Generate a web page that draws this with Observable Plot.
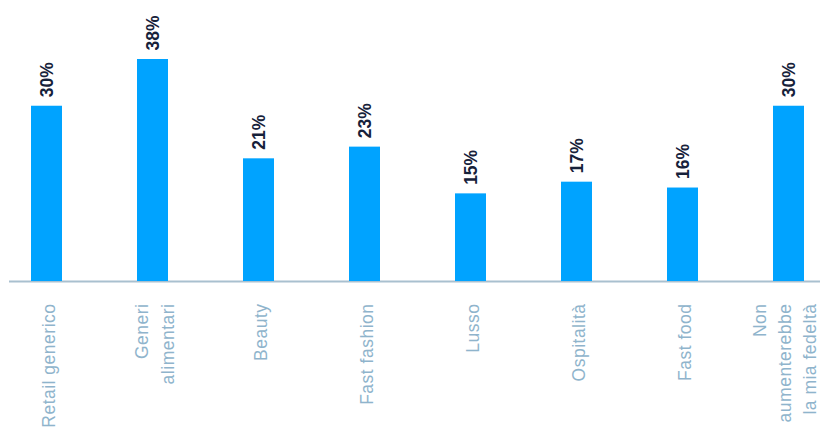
<!DOCTYPE html>
<html><head><meta charset="utf-8">
<script src="https://cdn.jsdelivr.net/npm/d3@7"></script>
<script src="https://cdn.jsdelivr.net/npm/@observablehq/plot@0.6"></script>
<style>body{margin:0;background:#fff;}</style>
</head><body><div id="chart"></div>
<script>
const categories = ["Retail generico", "Generi\nalimentari", "Beauty", "Fast fashion", "Lusso", "Ospitalità", "Fast food", "Non\naumenterebbe\nla mia fedeltà"];
const values = [30, 38, 21, 23, 15, 17, 16, 30];
const valueLabels = ["30%", "38%", "21%", "23%", "15%", "17%", "16%", "30%"];
const data = categories.map((c, i) => ({category: c, value: values[i], label: valueLabels[i]}));
const lastCat = categories[categories.length - 1];

const catText = {x: "category", y: () => 0, text: "category", rotate: -90, textAnchor: "end", dy: 22, fontSize: 17.5, fill: "#8fb4cc", lineHeight: 1.45};

const chart = Plot.plot({
  width: 820, height: 428,
  marginTop: 59, marginBottom: 147, marginLeft: 9, marginRight: 0,
  x: {domain: categories, range: [30, 805], paddingInner: 0.7083, paddingOuter: 0, axis: null},
  y: {domain: [0, 38], axis: null},
  style: {fontFamily: "'Liberation Sans', Arial, sans-serif", background: "#fff"},
  marks: [
    Plot.ruleY([0], {stroke: "#a9c0cf", strokeWidth: 2}),
    Plot.barY(data, {x: "category", y: "value", fill: "#00a3ff"}),
    Plot.text(data, {x: "category", y: "value", text: "label", rotate: -90, textAnchor: "start", dy: -9, fontSize: 17.5, fontWeight: "bold", fill: "#16213a"}),
    Plot.text(data.filter(d => d.category !== lastCat), catText),
    Plot.text(data.filter(d => d.category === lastCat), {...catText, dx: -6})
  ]
});
d3.select(chart).selectAll('g[aria-label="text"]').filter((d, i) => i > 0).style("letter-spacing", "0.5px");
document.getElementById("chart").appendChild(chart);
</script>
</body></html>
